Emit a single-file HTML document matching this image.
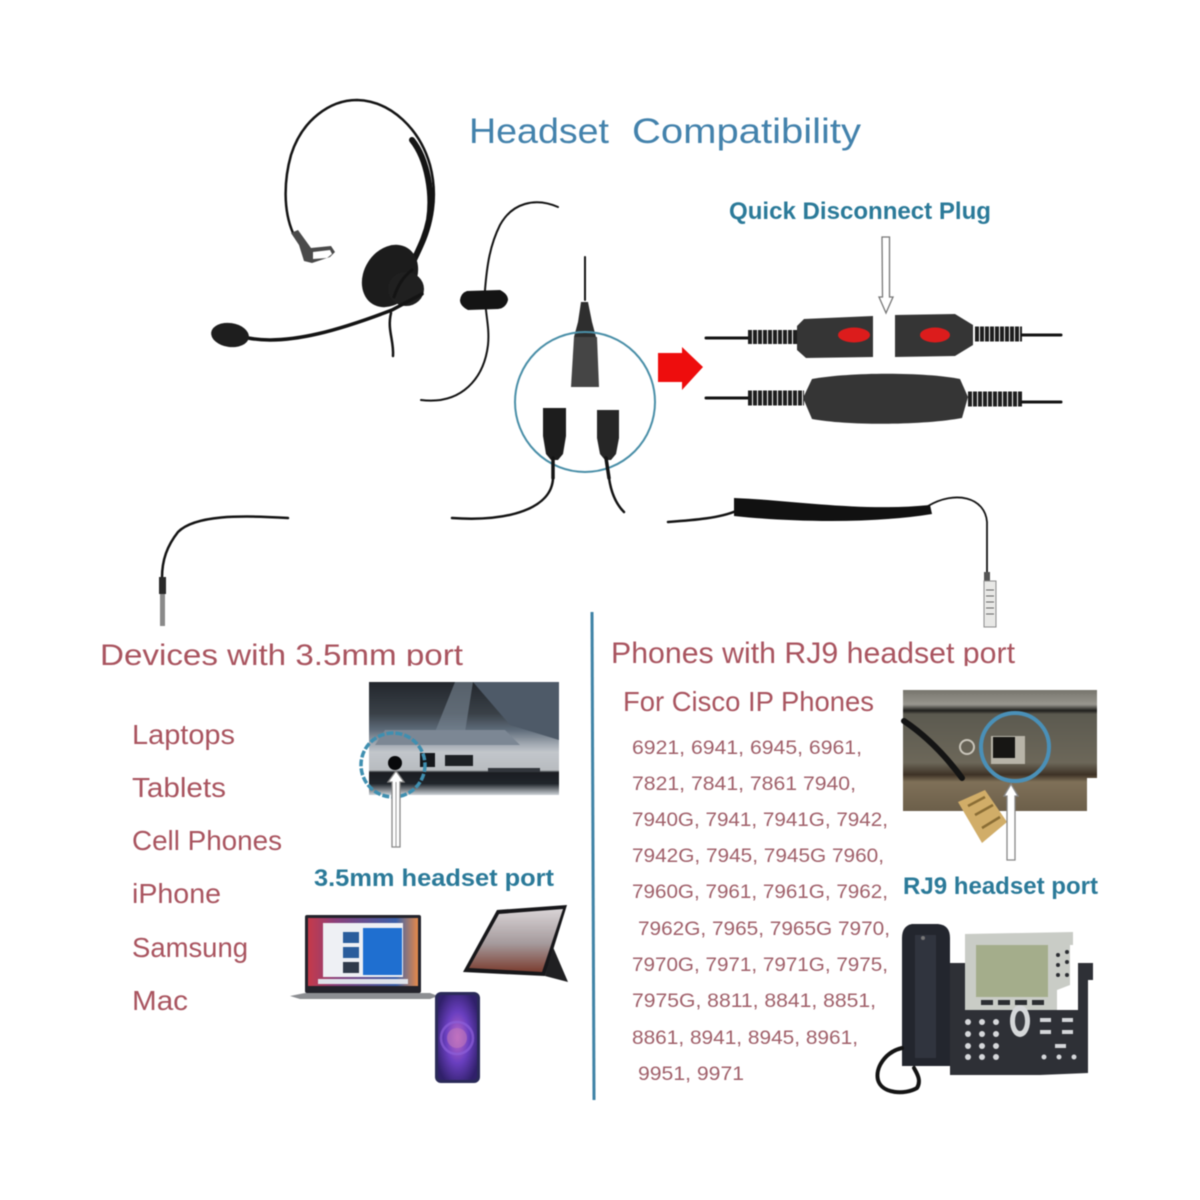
<!DOCTYPE html>
<html><head><meta charset="utf-8"><style>
html,body{margin:0;padding:0;background:#fff}
svg{display:block;filter:blur(.45px)}
text{font-family:"Liberation Sans",sans-serif}
.r{fill:#a9545f;font-size:28px}
.n{fill:#a0606a;font-size:19px}
.b{fill:#2b7a99;font-size:24px;font-weight:bold}
.l{fill:none;stroke:#141414;stroke-linecap:round;stroke-linejoin:round}
</style></head><body>
<svg width="1200" height="1200" viewBox="0 0 1200 1200" xmlns="http://www.w3.org/2000/svg">
<defs>
<clipPath id="cl"><rect x="90" y="630" width="390" height="36"/></clipPath>
<clipPath id="cr"><rect x="600" y="630" width="430" height="36"/></clipPath>
<linearGradient id="lap" x1="0" y1="0" x2="0" y2="1"><stop offset="0" stop-color="#23272d"/><stop offset=".28" stop-color="#3a4148"/><stop offset=".42" stop-color="#5d6a78"/><stop offset=".55" stop-color="#a2a9b2"/><stop offset=".62" stop-color="#c2c6cb"/><stop offset=".78" stop-color="#b8bcc0"/><stop offset=".8" stop-color="#1b1d22"/><stop offset=".9" stop-color="#20252b"/><stop offset="1" stop-color="#cdd2d7"/></linearGradient>
<linearGradient id="wall" x1="0" y1="0" x2="1" y2="0"><stop offset="0" stop-color="#c63a4a"/><stop offset=".25" stop-color="#8a3f7a"/><stop offset=".8" stop-color="#3a5fa8"/><stop offset="1" stop-color="#e58a4a"/></linearGradient>
<linearGradient id="scr" x1="0" y1="0" x2="0" y2="1"><stop offset="0" stop-color="#d9d4d6"/><stop offset=".55" stop-color="#a59a9c"/><stop offset="1" stop-color="#7b3d30"/></linearGradient>
<linearGradient id="photo" x1="0" y1="0" x2="0" y2="1"><stop offset="0" stop-color="#77756d"/><stop offset=".12" stop-color="#98968e"/><stop offset=".17" stop-color="#1f1e1c"/><stop offset=".2" stop-color="#5c5a50"/><stop offset=".6" stop-color="#6c6759"/><stop offset=".7" stop-color="#3e3226"/><stop offset=".76" stop-color="#7f7058"/><stop offset="1" stop-color="#6c5f4a"/></linearGradient>
<radialGradient id="ip" cx=".5" cy=".5" r=".6"><stop offset="0" stop-color="#c06ac8"/><stop offset=".5" stop-color="#6a3fc0"/><stop offset="1" stop-color="#30206a"/></radialGradient>
</defs>
<rect width="1200" height="1200" fill="#fff"/>
<text x="469" y="143" font-size="35" fill="#4382ac" textLength="140" lengthAdjust="spacingAndGlyphs">Headset</text>
<text x="632" y="143" font-size="35" fill="#4382ac" textLength="229" lengthAdjust="spacingAndGlyphs">Compatibility</text>
<text x="729" y="219" class="b" textLength="262" lengthAdjust="spacingAndGlyphs">Quick Disconnect Plug</text>

<!-- Headset -->
<path class="l" stroke-width="2.500" d="M293 233C283 210 284 180 291 155C302 120 330 100 357 100C392 101 420 130 430 165C438 195 433 225 420 250"/>
<path class="l" stroke-width="6" stroke="#2a2a2a" d="M412 140C428 160 433 195 429 220C426 235 421 245 413 262"/>
<path class="l" stroke-width="1.500" stroke="#999" d="M425 165C431 190 431 210 427 226"/>
<path d="M291 233l7-3 13 18 20-2 4 6-5 5-18 6-8-2-5-16z" fill="#4a4a4a"/>
<path d="M313 252l17-2 2 4-5 4-14 1z" fill="#fff"/>
<ellipse cx="390" cy="276" rx="26" ry="33" fill="#1c1c1c" transform="rotate(32 390 276)"/>
<ellipse cx="406" cy="289" rx="18" ry="17" fill="#202020"/>
<path class="l" stroke="#aaa" stroke-width="3" d="M394 297C398 285 403 277 412 270"/>
<path class="l" stroke-width="3.500" d="M248 338C290 346 345 328 392 310L422 294"/>
<ellipse cx="230" cy="335" rx="19" ry="12" fill="#1e1e1e" transform="rotate(8 230 335)"/>
<path class="l" stroke-width="2.500" d="M391 313C387 330 394 340 393 356"/>

<!-- Cable -->
<path class="l" stroke-width="2" d="M558 207C535 197 512 203 500 225C490 245 487 265 485 290C484 310 490 325 488 345C484 378 462 405 421 400"/>
<path d="M467 291L500 290Q508 294 508 300Q506 308 498 309L468 310Q460 306 460 300Q461 293 467 291z" fill="#141414"/>

<!-- Circle connector -->
<path class="l" stroke-width="2" d="M585 257V300"/>
<path d="M581 302h7l4 20 4 15h-22l4-15z" fill="#2e2e2e"/>
<path d="M574 337h23l2 50h-28z" fill="#454545"/>
<path d="M543 408h23v28l-3 18-5 6h-7l-5-6-3-18z" fill="#1d1d1d"/>
<path d="M597 410h22v28l-3 16-5 6h-6l-5-6-3-16z" fill="#262626"/>
<circle cx="585" cy="402" r="70" fill="none" stroke="#4a8fa8" stroke-width="2"/>
<path class="l" stroke-width="3.500" d="M553 458V478"/>
<path class="l" stroke-width="3.500" d="M606 458L609 478"/>
<path class="l" stroke-width="2.500" d="M553 478C552 508 510 522 452 518"/>
<path class="l" stroke-width="2.500" d="M609 478C611 492 616 504 624 512"/>
<path fill="#ee0d0d" d="M658 353h24v-6l21 20-21 23v-8h-24z"/>

<!-- Quick disconnect -->
<path class="l" stroke-width="3" stroke="#2a2a2a" d="M706 338H748"/>
<path d="M748 337H797" stroke="#1e1e1e" stroke-width="14" stroke-dasharray="4 1"/>
<path d="M804 319L873 316V357L806 358L797 350V326z" fill="#353535"/>
<ellipse cx="854" cy="335" rx="16" ry="7.500" fill="#dc1c1c"/>
<path d="M895 315L955 314L973 325V345L955 356L895 357z" fill="#353535"/>
<ellipse cx="935" cy="335" rx="15" ry="7.500" fill="#dc1c1c"/>
<path d="M975 334H1022" stroke="#1e1e1e" stroke-width="15" stroke-dasharray="4 1"/>
<path class="l" stroke-width="3" stroke="#2a2a2a" d="M1022 335H1061"/>
<path class="l" stroke-width="3" stroke="#2a2a2a" d="M706 398H748"/>
<path d="M748 398H804" stroke="#1e1e1e" stroke-width="15" stroke-dasharray="4 1"/>
<path d="M812 379C850 372 925 372 960 379L968 397L962 418C925 425 850 426 812 419L803 398z" fill="#353535"/>
<path d="M968 399H1022" stroke="#1e1e1e" stroke-width="15" stroke-dasharray="4 1"/>
<path class="l" stroke-width="3" stroke="#2a2a2a" d="M1022 402H1061"/>
<path fill="#fff" stroke="#777" stroke-width="1.300" d="M882 237h7.500v60h3.500l-7 16-7-16h3.500z"/>

<!-- Lower cables -->
<path class="l" stroke-width="2.500" d="M288 518C240 515 195 515 178 532C167 546 162 560 162 578"/>
<rect x="159" y="577" width="7" height="17" fill="#2a2a2a"/>
<rect x="160" y="594" width="5" height="32" fill="#8a8a8a"/>
<path class="l" stroke-width="2.500" d="M668 522C695 520 720 518 736 511"/>
<path d="M734 498C790 500 860 512 930 505L932 514C870 524 790 522 734 516z" fill="#111"/>
<path class="l" stroke-width="1.800" d="M928 506C955 490 985 497 987 522V572"/>
<rect x="984" y="572" width="6" height="9" fill="#555"/>
<rect x="984" y="581" width="12" height="46" fill="#e8e8e6" stroke="#8c8c8c" stroke-width="1"/>
<path stroke="#666" d="M986 590h8M986 596h8M986 602h8M986 608h8M986 614h8"/>

<!-- Divider -->
<line x1="592" y1="612" x2="594" y2="1100" stroke="#3f83a6" stroke-width="3"/>

<!-- Left -->
<g clip-path="url(#cl)"><text x="100" y="665" class="r" style="font-size:30px" textLength="363" lengthAdjust="spacingAndGlyphs">Devices with 3.5mm port</text></g>
<text x="132" y="744" class="r" textLength="103" lengthAdjust="spacingAndGlyphs">Laptops</text>
<text x="132" y="797" class="r" textLength="94" lengthAdjust="spacingAndGlyphs">Tablets</text>
<text x="132" y="850" class="r" textLength="150" lengthAdjust="spacingAndGlyphs">Cell Phones</text>
<text x="132" y="903" class="r" textLength="89" lengthAdjust="spacingAndGlyphs">iPhone</text>
<text x="132" y="957" class="r" textLength="116" lengthAdjust="spacingAndGlyphs">Samsung</text>
<text x="132" y="1010" class="r" textLength="56" lengthAdjust="spacingAndGlyphs">Mac</text>

<!-- Laptop port photo -->
<rect x="369" y="682" width="190" height="113" fill="url(#lap)"/>
<path d="M455 682h18l-8 50h-30z" fill="#7a8794" opacity=".6"/>
<path d="M473 682H559V740L510 725z" fill="#4e5a68"/>
<path d="M385 730H505L520 745H375z" fill="#7c8794"/>
<rect x="420" y="753" width="15" height="14" fill="#15171b"/>
<rect x="445" y="755" width="28" height="11" fill="#1d2024"/>
<rect x="488" y="768" width="52" height="4" fill="#32363c"/>
<circle cx="395" cy="763" r="7" fill="#08090b"/>
<circle cx="393" cy="765" r="32" fill="none" stroke="#3f8fb0" stroke-width="3.500" stroke-dasharray="7 2"/>
<path fill="#fff" stroke="#888" stroke-width="1.300" d="M392 847V782h-4l8-11 8 11h-4v65z"/>
<path d="M396 782V847" stroke="#999" stroke-width="1"/>
<text x="314" y="886" class="b" textLength="240" lengthAdjust="spacingAndGlyphs">3.5mm headset port</text>

<!-- Laptop -->
<rect x="305" y="915" width="116" height="78" rx="2" fill="#23232b"/>
<rect x="308" y="918" width="110" height="68" fill="url(#wall)"/>
<rect x="323" y="923" width="80" height="54" fill="#eef0f4"/>
<rect x="363" y="928" width="39" height="47" fill="#1f6fd0"/>
<rect x="343" y="932" width="16" height="11" fill="#2a5d9c"/><rect x="343" y="947" width="16" height="11" fill="#2a5d9c"/><rect x="343" y="962" width="16" height="11" fill="#2f3a4a"/>
<rect x="318" y="979" width="90" height="5" fill="#dfe3ea"/>
<path d="M290 996l15-3H430l8 3-8 3H300z" fill="#8c8e92"/>
<!-- Tablet -->
<path d="M497 910L567 905L545 976L463 972z" fill="#17171a"/>
<path d="M499 914L563 909L542 972L469 968z" fill="url(#scr)"/>
<path d="M545 976L553 947L568 982z" fill="#202022"/>
<!-- Phone -->
<rect x="435" y="992" width="45" height="91" rx="6" fill="#2a2a58"/>
<rect x="438" y="995" width="39" height="85" rx="4" fill="url(#ip)"/>
<circle cx="457" cy="1038" r="10" fill="#c27ab8" opacity=".55"/>
<circle cx="457" cy="1038" r="16" fill="none" stroke="#8d5fd8" stroke-width="2.500" opacity=".7"/>

<!-- Right -->
<g clip-path="url(#cr)"><text x="611" y="663" class="r" style="font-size:30px" textLength="404" lengthAdjust="spacingAndGlyphs">Phones with RJ9 headset port</text></g>
<text x="623" y="711" class="r" textLength="251" lengthAdjust="spacingAndGlyphs">For Cisco IP Phones</text>
<text x="632" y="754" class="n" textLength="230" lengthAdjust="spacingAndGlyphs">6921, 6941, 6945, 6961,</text>
<text x="632" y="790" class="n" textLength="224" lengthAdjust="spacingAndGlyphs">7821, 7841, 7861 7940,</text>
<text x="632" y="826" class="n" textLength="256" lengthAdjust="spacingAndGlyphs">7940G, 7941, 7941G, 7942,</text>
<text x="632" y="862" class="n" textLength="252" lengthAdjust="spacingAndGlyphs">7942G, 7945, 7945G 7960,</text>
<text x="632" y="898" class="n" textLength="256" lengthAdjust="spacingAndGlyphs">7960G, 7961, 7961G, 7962,</text>
<text x="638" y="935" class="n" textLength="252" lengthAdjust="spacingAndGlyphs">7962G, 7965, 7965G 7970,</text>
<text x="632" y="971" class="n" textLength="256" lengthAdjust="spacingAndGlyphs">7970G, 7971, 7971G, 7975,</text>
<text x="632" y="1007" class="n" textLength="244" lengthAdjust="spacingAndGlyphs">7975G, 8811, 8841, 8851,</text>
<text x="632" y="1044" class="n" textLength="226" lengthAdjust="spacingAndGlyphs">8861, 8941, 8945, 8961,</text>
<text x="638" y="1080" class="n" textLength="106" lengthAdjust="spacingAndGlyphs">9951, 9971</text>

<!-- RJ9 photo -->
<path d="M903 690H1097V778H1087V811H903z" fill="url(#photo)"/>
<rect x="991" y="736" width="34" height="28" fill="#b8b4a8"/>
<rect x="993" y="737" width="22" height="21" fill="#171614"/>
<circle cx="967" cy="747" r="7" fill="none" stroke="#c9c5ba" stroke-width="2"/>
<path class="l" stroke-width="6" stroke="#181818" d="M904 721C925 735 945 755 962 778"/>
<path class="l" stroke-width="5" stroke="#3a6ea8" d="M951 765L958 773"/>
<path d="M958 802L985 790L1007 822L982 843z" fill="#d1ad68"/>
<path d="M968 806L985 797M975 815L993 805M982 828L1000 817" stroke="#8a6d35" stroke-width="2.500"/>
<circle cx="1015" cy="747" r="34" fill="none" stroke="#4a90b8" stroke-width="4"/>
<path fill="#fff" stroke="#888" stroke-width="1.300" d="M1007 860V796h-3l7-12 7 12h-3v64z"/>
<text x="903" y="894" class="b" textLength="195" lengthAdjust="spacingAndGlyphs">RJ9 headset port</text>

<!-- Cisco phone -->
<path d="M950 963H965V1010H1078V963H1093V980H1088V1073L1040 1075H950z" fill="#2e3036"/>
<path d="M965 934L1073 932V945H1070V985L1057 990V1010H965z" fill="#c9ccc6"/>
<rect x="976" y="945" width="72" height="52" fill="#a4ad8b"/>
<g fill="#2c2e32"><rect x="981" y="1000" width="12" height="5"/><rect x="998" y="1000" width="12" height="5"/><rect x="1015" y="1000" width="12" height="5"/><rect x="1032" y="1000" width="12" height="5"/>
<circle cx="1058" cy="955" r="2"/><circle cx="1067" cy="952" r="2"/><circle cx="1058" cy="965" r="2"/><circle cx="1067" cy="962" r="2"/><circle cx="1058" cy="975" r="2"/><circle cx="1067" cy="975" r="2"/></g>
<ellipse cx="1020" cy="1021" rx="10" ry="16" fill="#d6d8da"/>
<ellipse cx="1020" cy="1021" rx="5" ry="10" fill="#3a3c42"/>
<g fill="#d5d7da"><circle cx="968" cy="1022" r="3"/><circle cx="982" cy="1022" r="3"/><circle cx="996" cy="1022" r="3"/><circle cx="968" cy="1034" r="3"/><circle cx="982" cy="1034" r="3"/><circle cx="996" cy="1034" r="3"/><circle cx="968" cy="1046" r="3"/><circle cx="982" cy="1046" r="3"/><circle cx="996" cy="1046" r="3"/><circle cx="968" cy="1057" r="3"/><circle cx="982" cy="1057" r="3"/><circle cx="996" cy="1057" r="3"/>
<rect x="1040" y="1018" width="11" height="4"/><rect x="1062" y="1018" width="11" height="4"/><rect x="1040" y="1030" width="11" height="4"/><rect x="1062" y="1030" width="11" height="4"/><rect x="1055" y="1044" width="11" height="4"/><circle cx="1044" cy="1057" r="2.500"/><circle cx="1059" cy="1057" r="2.500"/><circle cx="1074" cy="1057" r="2.500"/></g>
<path d="M912 924H938Q950 925 950 938V1066H902V938Q902 926 912 924z" fill="#23262e"/>
<path d="M915 935H936V1058H915z" fill="#30343e"/>
<circle cx="923" cy="938" r="2" fill="#777"/>
<path class="l" stroke-width="4" d="M902 1048C885 1052 875 1068 878 1080C882 1094 905 1095 917 1088C922 1080 916 1072 914 1068"/>
</svg>
</body></html>
